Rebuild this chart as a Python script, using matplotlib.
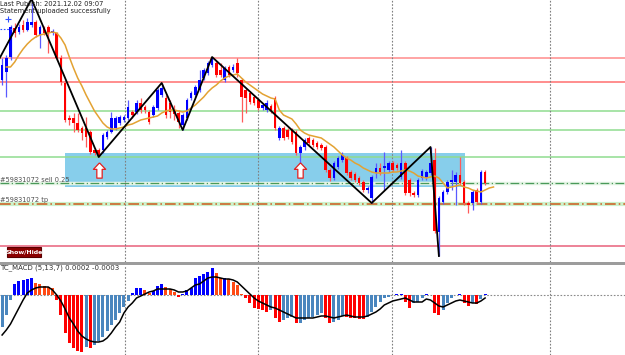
import numpy as np
import matplotlib
matplotlib.use("Agg")
import matplotlib.pyplot as plt
from matplotlib.patches import Rectangle
from matplotlib.path import Path

# --- price data (one value per bar) ---
opens = [1.13180, 1.13188, 1.13203, 1.13232, 1.13228, 1.13235, 1.13230, 1.13235, 1.13238, 1.13225,
         1.13232, 1.13233, 1.13227, 1.13227, 1.13202, 1.13177, 1.13142, 1.13142, 1.13137, 1.13132,
         1.13132, 1.13128, 1.13110, 1.13110, 1.13110, 1.13123, 1.13128, 1.13132, 1.13137, 1.13140,
         1.13142, 1.13148, 1.13148, 1.13157, 1.13153, 1.13148, 1.13145, 1.13152, 1.13165, 1.13162,
         1.13157, 1.13150, 1.13147, 1.13135, 1.13142, 1.13162, 1.13165, 1.13170, 1.13182, 1.13187,
         1.13195, 1.13197, 1.13190, 1.13180, 1.13193, 1.13190, 1.13197, 1.13180, 1.13170, 1.13167,
         1.13163, 1.13160, 1.13152, 1.13150, 1.13154, 1.13162, 1.13122, 1.13132, 1.13130, 1.13130,
         1.13128, 1.13107, 1.13113, 1.13122, 1.13120, 1.13117, 1.13115, 1.13113, 1.13090, 1.13082,
         1.13093, 1.13100, 1.13102, 1.13088, 1.13086, 1.13082, 1.13078, 1.13070, 1.13062, 1.13087,
         1.13092, 1.13092, 1.13090, 1.13097, 1.13095, 1.13083, 1.13097, 1.13080, 1.13067, 1.13065,
         1.13082, 1.13082, 1.13087, 1.13100, 1.13028, 1.13058, 1.13068, 1.13078, 1.13078, 1.13085,
         1.13078, 1.13057, 1.13057, 1.13070, 1.13058, 1.13088]
highs = [1.13202, 1.13205, 1.13235, 1.13237, 1.13236, 1.13240, 1.13242, 1.13261, 1.13240, 1.13235,
         1.13234, 1.13235, 1.13231, 1.13228, 1.13205, 1.13180, 1.13145, 1.13147, 1.13147, 1.13134,
         1.13143, 1.13130, 1.13112, 1.13112, 1.13127, 1.13130, 1.13148, 1.13144, 1.13145, 1.13145,
         1.13160, 1.13150, 1.13160, 1.13162, 1.13155, 1.13150, 1.13155, 1.13172, 1.13177, 1.13165,
         1.13160, 1.13155, 1.13150, 1.13147, 1.13162, 1.13169, 1.13175, 1.13190, 1.13192, 1.13199,
         1.13203, 1.13199, 1.13197, 1.13194, 1.13195, 1.13196, 1.13202, 1.13182, 1.13172, 1.13169,
         1.13165, 1.13162, 1.13157, 1.13160, 1.13156, 1.13164, 1.13134, 1.13134, 1.13132, 1.13132,
         1.13130, 1.13115, 1.13122, 1.13124, 1.13122, 1.13119, 1.13117, 1.13115, 1.13092, 1.13099,
         1.13104, 1.13108, 1.13104, 1.13090, 1.13088, 1.13084, 1.13080, 1.13074, 1.13085, 1.13097,
         1.13097, 1.13108, 1.13099, 1.13099, 1.13097, 1.13110, 1.13099, 1.13082, 1.13069, 1.13082,
         1.13091, 1.13090, 1.13113, 1.13112, 1.13064, 1.13070, 1.13080, 1.13090, 1.13088, 1.13103,
         1.13080, 1.13059, 1.13070, 1.13072, 1.13090, 1.13090]
lows = [1.13175, 1.13163, 1.13200, 1.13223, 1.13226, 1.13228, 1.13229, 1.13233, 1.13223, 1.13212,
        1.13225, 1.13207, 1.13225, 1.13200, 1.13175, 1.13138, 1.13135, 1.13128, 1.13128, 1.13120,
        1.13113, 1.13106, 1.13105, 1.13103, 1.13107, 1.13121, 1.13127, 1.13130, 1.13135, 1.13138,
        1.13140, 1.13142, 1.13146, 1.13147, 1.13147, 1.13136, 1.13143, 1.13150, 1.13163, 1.13142,
        1.13142, 1.13140, 1.13132, 1.13130, 1.13140, 1.13160, 1.13163, 1.13168, 1.13180, 1.13185,
        1.13193, 1.13183, 1.13183, 1.13178, 1.13183, 1.13188, 1.13183, 1.13138, 1.13147, 1.13156,
        1.13155, 1.13150, 1.13150, 1.13148, 1.13147, 1.13130, 1.13120, 1.13120, 1.13121, 1.13116,
        1.13105, 1.13095, 1.13110, 1.13115, 1.13113, 1.13111, 1.13110, 1.13088, 1.13079, 1.13080,
        1.13091, 1.13098, 1.13085, 1.13080, 1.13078, 1.13075, 1.13068, 1.13067, 1.13057, 1.13082,
        1.13085, 1.13070, 1.13088, 1.13088, 1.13090, 1.13081, 1.13065, 1.13064, 1.13063, 1.13063,
        1.13080, 1.13080, 1.13085, 1.13027, 1.13004, 1.13056, 1.13066, 1.13070, 1.13055, 1.13075,
        1.13055, 1.13047, 1.13050, 1.13056, 1.13056, 1.13075]
closes = [1.13195, 1.13202, 1.13233, 1.13227, 1.13233, 1.13230, 1.13238, 1.13238, 1.13225, 1.13233,
          1.13227, 1.13227, 1.13229, 1.13202, 1.13178, 1.13140, 1.13140, 1.13137, 1.13130, 1.13127,
          1.13123, 1.13108, 1.13107, 1.13105, 1.13125, 1.13128, 1.13142, 1.13142, 1.13143, 1.13143,
          1.13153, 1.13145, 1.13157, 1.13150, 1.13150, 1.13138, 1.13153, 1.13170, 1.13172, 1.13145,
          1.13148, 1.13146, 1.13138, 1.13145, 1.13160, 1.13167, 1.13173, 1.13180, 1.13190, 1.13197,
          1.13202, 1.13185, 1.13185, 1.13192, 1.13185, 1.13193, 1.13187, 1.13163, 1.13162, 1.13158,
          1.13157, 1.13152, 1.13155, 1.13157, 1.13149, 1.13132, 1.13132, 1.13122, 1.13123, 1.13118,
          1.13107, 1.13113, 1.13120, 1.13117, 1.13115, 1.13113, 1.13112, 1.13090, 1.13082, 1.13097,
          1.13102, 1.13105, 1.13087, 1.13082, 1.13080, 1.13077, 1.13070, 1.13072, 1.13083, 1.13092,
          1.13088, 1.13094, 1.13097, 1.13090, 1.13092, 1.13097, 1.13067, 1.13067, 1.13065, 1.13080,
          1.13089, 1.13088, 1.13097, 1.13029, 1.13062, 1.13068, 1.13078, 1.13080, 1.13085, 1.13077,
          1.13057, 1.13055, 1.13068, 1.13058, 1.13088, 1.13077]

# moving average as drawn (starts at bar 1, runs 2 bars past the last candle)
ma_start = 1
ma_line = [1.13193, 1.13193, 1.13198, 1.13205, 1.13211, 1.13216, 1.13220, 1.13223, 1.13225, 1.13226,
           1.13227, 1.13228, 1.13227, 1.13222, 1.13215, 1.13203, 1.13192, 1.13182, 1.13174, 1.13165,
           1.13157, 1.13149, 1.13143, 1.13137, 1.13133, 1.13131, 1.13131, 1.13132, 1.13133, 1.13135,
           1.13136, 1.13138, 1.13140, 1.13141, 1.13142, 1.13143, 1.13144, 1.13147, 1.13149, 1.13150,
           1.13150, 1.13149, 1.13148, 1.13149, 1.13152, 1.13155, 1.13159, 1.13163, 1.13168, 1.13172,
           1.13175, 1.13179, 1.13182, 1.13184, 1.13185, 1.13186, 1.13182, 1.13178, 1.13175, 1.13172,
           1.13169, 1.13166, 1.13164, 1.13162, 1.13161, 1.13150, 1.13145, 1.13143, 1.13141, 1.13136,
           1.13130, 1.13127, 1.13125, 1.13124, 1.13123, 1.13122, 1.13119, 1.13116, 1.13113, 1.13109,
           1.13105, 1.13102, 1.13100, 1.13097, 1.13095, 1.13092, 1.13090, 1.13088, 1.13087, 1.13087,
           1.13087, 1.13087, 1.13088, 1.13088, 1.13089, 1.13090, 1.13089, 1.13087, 1.13084, 1.13083,
           1.13082, 1.13083, 1.13084, 1.13082, 1.13077, 1.13072, 1.13073, 1.13074, 1.13075, 1.13073,
           1.13072, 1.13070, 1.13069, 1.13068, 1.13070, 1.13072, 1.13073]

# zigzag turning points (bar, price)
zz_bars = [-3, 7, 23, 38, 43, 50, 88, 102, 104]
zz_prices = [1.13183, 1.13261, 1.13103, 1.13177, 1.13130, 1.13203, 1.13057, 1.13113, 1.13004]

# horizontal levels
red_levels = [1.13202, 1.13178]
green_levels = [1.13149, 1.13130, 1.13103]
sell_level = 1.13077
tp_level = 1.13056
low_level = 1.13014
zone = (15.0, 110.2, 1.13073, 1.13107)
arrow_bars = [23, 71]
arrow_price = 1.13090
grid_bars = [29.3, 60.9, 92.8, 130.5]

# MACD (5,13,7), in units of 0.00001
macd_hist = [-32, -20, -5, 11, 14, 15, 16, 17, 12, 11,
             9, 8, 7, -5, -20, -38, -48, -53, -56, -57,
             -52, -53, -50, -46, -42, -36, -30, -25, -18, -12,
             -6, 2, 7, 7.5, 5, 2, 4, 9, 11, 8,
             6, 3, -2, 1, 5, 7, 17, 19, 21, 23,
             27, 22, 17, 17.5, 16, 13, 10, 1, -3, -8,
             -13, -14, -15, -17, -15, -23, -27, -25, -23, -22,
             -28, -28, -25, -23, -22, -20, -18, -23, -28, -27,
             -25, -21, -22, -22.5, -23, -23.5, -24, -22, -17, -12,
             -7, -3, -2, 0.5, 0.8, 1.5, -7, -13, -8, -7,
             -3, 1, 0.5, -18, -20, -15, -8, -3, 0.5, 0.8,
             -8, -11, -8, -9, -4, 1]
macd_signal = [-40, -35, -29, -21, -13, -5, 2, 5, 7, 8,
               8, 8, 5, 0, -6, -14, -23, -29, -36, -41,
               -44, -46, -47, -47, -46, -43, -38, -32, -27, -18,
               -12, -8, -3, -1, 1, 3, 4, 6, 6, 6,
               6, 5, 3, 3, 4, 7, 10, 11, 14, 17,
               18, 18, 17, 16, 16, 15, 13, 9, 5, 1,
               -3, -6, -8, -10, -12, -13, -15, -17, -19, -21,
               -23, -23, -23, -23, -23, -22, -21, -21, -22, -23,
               -22, -21, -20, -21, -22, -22, -22, -21, -19, -17,
               -14, -10, -8, -6, -5, -4, -3, -5, -7, -7,
               -7, -4, -5, -8, -11, -12, -10, -8, -6, -5,
               -6, -7, -8, -8, -6, -3]
macd_unit = 0.00001

W, H = 625, 355
BAR_PX = 4.2

fig = plt.figure(figsize=(W / 100, H / 100), dpi=100)
fig.patch.set_facecolor("white")

x_lo = -0.5
x_hi = x_lo + W / BAR_PX

main = fig.add_axes([0, 93 / H, 1, 262 / H])
osc = fig.add_axes([0, 0, 1, 90 / H])
for ax in (main, osc):
    ax.set_xlim(x_lo, x_hi)
    ax.axis("off")
main.set_ylim(1.12998, 1.13260)
osc.set_ylim(-0.0006, 0.0003)

# panel separator
fig.add_artist(Rectangle((0, 90 / H), 1, 3 / H, transform=fig.transFigure,
                         facecolor="#9c9c9c", edgecolor="none"))

# vertical dotted grid
for ax in (main, osc):
    for gx in grid_bars:
        ax.axvline(gx, color="#7f7f7f", lw=0.8, ls=(0, (1.5, 1.5)), zorder=2)
osc.axhline(0, color="#8a8a8a", lw=0.8, ls=(0, (1.5, 1.5)), zorder=1)

# zone rectangle
zx0, zx1, zy0, zy1 = zone
main.add_patch(Rectangle((zx0, zy0), zx1 - zx0, zy1 - zy0, facecolor="#87ceeb",
                         edgecolor="none", zorder=0.5))

# horizontal levels
main.axhline(red_levels[0], color="#ff8c8c", lw=1.1, zorder=1)
main.axhline(red_levels[1], color="#ff6f6f", lw=1.1, zorder=1)
for lv in green_levels:
    main.axhline(lv, color="#8fdc8f", lw=1.1, zorder=1)
main.axhline(sell_level, color="#e4f4e4", lw=2.5, zorder=1)
main.axhline(sell_level, color="#4a9a5a", lw=0.9, ls=(0, (7, 2, 1, 2)), zorder=1.2)
main.axhline(tp_level, color="#ccf2cc", lw=3.0, zorder=1)
main.axhline(tp_level, color="#cc5a1e", lw=1.1, ls=(0, (7, 2, 1, 2)), zorder=1.2)
main.axhline(low_level, color="#e8607a", lw=1.1, zorder=1)

# candles
idx = np.arange(len(opens))
o, hi, lo, c = (np.array(v) for v in (opens, highs, lows, closes))
up = c >= o
body_col = np.where(up, "#0000ff", "#ff0000")
wick_col = np.where(up, "#5a5aff", "#ff5a5a")
main.vlines(idx, lo, hi, colors=wick_col, lw=0.9, zorder=3)
main.bar(idx, np.maximum(np.abs(c - o), 0.000015), bottom=np.minimum(o, c),
         width=0.62, color=body_col, linewidth=0, zorder=4)

# moving average
ma_x = np.arange(ma_start, ma_start + len(ma_line))
main.plot(ma_x, ma_line, color="#e3a232", lw=1.1, zorder=5)

# zigzag
main.plot(zz_bars, zz_prices, color="black", lw=1.3, zorder=6)

# up arrows (hollow)
arrow = Path([(0, 1), (-0.8, 0.15), (-0.35, 0.15), (-0.35, -1), (0.35, -1),
              (0.35, 0.15), (0.8, 0.15), (0, 1)])
main.plot(arrow_bars, [arrow_price] * len(arrow_bars), ls="none", marker=arrow,
          markersize=11, mfc="white", mec="#e02020", mew=0.9, zorder=7)

# small open-order marker at top left
main.plot([-0.5, 2.5], [1.13231, 1.13231], color="#3050ff", lw=0.8, ls=(0, (1.5, 1.5)), zorder=5)
main.plot([1.5], [1.13241], marker="+", color="#3050ff", markersize=4, mew=0.8, zorder=5)

# texts
def ftxt(px, py, s, **kw):
    fig.text(px / W, 1 - py / H, s, **kw)

ftxt(0, 4, "Last Publish: 2021.12.02 09:07", fontsize=4.8, va="center", ha="left", color="#202020")
ftxt(0, 11.5, "Statement uploaded successfully", fontsize=4.8, va="center", ha="left", color="#202020")
ftxt(0, 180, "#59831072 sell 0.25", fontsize=4.8, va="center", ha="left", color="#505050")
ftxt(0, 200, "#59831072 tp", fontsize=4.8, va="center", ha="left", color="#505050")
ftxt(0, 268, "TC_MACD (5,13,7) 0.0002 -0.0003", fontsize=5.0, va="center", ha="left", color="#303030")

# Show/Hide button
fig.add_artist(Rectangle((7 / W, 1 - 257 / H), 34 / W, 10 / H, transform=fig.transFigure,
                         facecolor="#8b0000", edgecolor="#5a0000", lw=0.8))
ftxt(24, 252, "Show/Hide", fontsize=4.5, va="center", ha="center", color="white",
     fontweight="bold")

# MACD histogram + signal
hist = np.array(macd_hist) * macd_unit
prev = np.concatenate([[hist[0]], hist[:-1]])
rising = hist >= prev
cols = np.where(hist >= 0, np.where(rising, "#0000ff", "#ff4a14"),
                np.where(rising, "#4a86be", "#ff0000"))
osc.bar(idx, hist, width=0.7, color=cols, linewidth=0, zorder=3)
osc.plot(idx, np.array(macd_signal) * macd_unit, color="black", lw=1.1, zorder=4)

fig.savefig("out.png", dpi=100, facecolor="white")
